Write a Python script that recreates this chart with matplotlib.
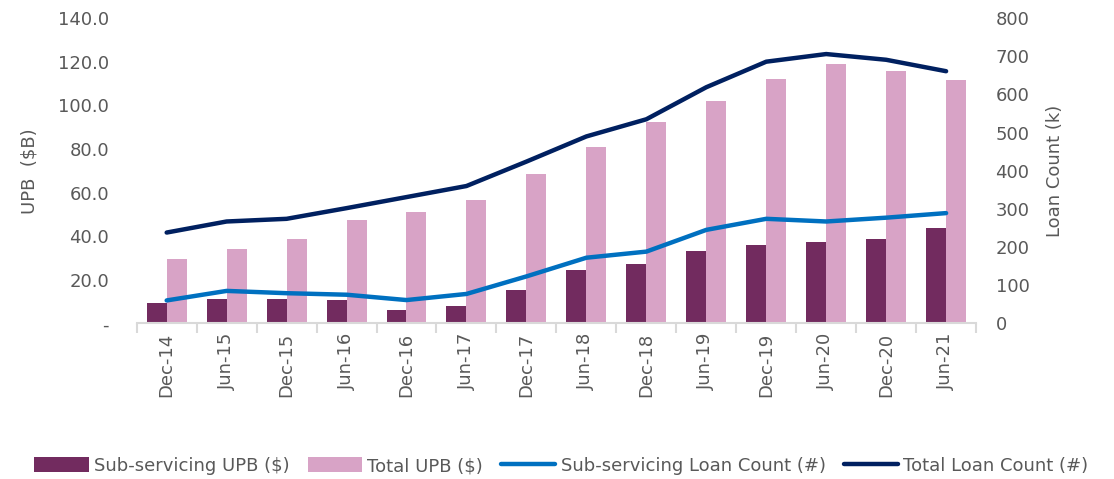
import numpy as np
import matplotlib
matplotlib.use("Agg")
import matplotlib.pyplot as plt
from matplotlib.ticker import FixedLocator, FuncFormatter

categories = ["Dec-14", "Jun-15", "Dec-15", "Jun-16", "Dec-16", "Jun-17", "Dec-17",
              "Jun-18", "Dec-18", "Jun-19", "Dec-19", "Jun-20", "Dec-20", "Jun-21"]
sub_upb = [9.2, 11.2, 11.2, 10.7, 6.0, 7.8, 15.3, 24.5, 27.1, 33.2, 35.9, 37.3, 38.7, 43.6]
total_upb = [29.4, 34.1, 38.8, 47.2, 51.2, 56.7, 68.3, 80.9, 92.2, 102.0, 111.9, 118.8, 115.7, 111.6]
sub_count = [60, 85, 79, 75, 61, 77, 123, 172, 188, 245, 274, 267, 277, 289]
total_count = [238, 267, 274, 302, 331, 360, 424, 490, 535, 619, 686, 706, 691, 661]

C_SUB = "#722B5F"
C_TOT = "#D8A3C6"
C_LSUB = "#0070C0"
C_LTOT = "#002060"
GRAY = "#595959"
FS = 13

plt.rcParams['font.family'] = ['DejaVu Sans']
fig = plt.figure(figsize=(11.14, 4.79), dpi=100)
ax = fig.add_axes([0.1227, 0.325, 0.7535, 0.637])
ax2 = ax.twinx()

x = np.arange(len(categories))
w = 0.333
ax.bar(x - w / 2, sub_upb, width=w, color=C_SUB, label="Sub-servicing UPB ($)", zorder=2)
ax.bar(x + w / 2, total_upb, width=w, color=C_TOT, label="Total UPB ($)", zorder=2)
ax2.plot(x, sub_count, color=C_LSUB, lw=3.2, solid_capstyle='round', solid_joinstyle='round',
         label="Sub-servicing Loan Count (#)")
ax2.plot(x, total_count, color=C_LTOT, lw=3.2, solid_capstyle='round', solid_joinstyle='round',
         label="Total Loan Count (#)")

ax.set_xlim(-0.5, len(categories) - 0.5)
ax.set_ylim(0, 140)
ax2.set_ylim(0, 800)
ax.set_yticks(np.arange(0, 141, 20))
ax.yaxis.set_major_formatter(FuncFormatter(lambda v, p: "-" if v == 0 else f"{v:.1f}"))
ax2.set_yticks(np.arange(0, 801, 100))

ax.set_xticks(x)
ax.set_xticklabels(categories, rotation=90)
ax.xaxis.set_minor_locator(FixedLocator(np.arange(-0.5, len(categories), 1.0)))
ax.tick_params(axis='x', which='major', length=0, pad=7, labelsize=FS, labelcolor=GRAY)
ax.tick_params(axis='x', which='minor', length=7, color="#D9D9D9", width=1.5)
ax.tick_params(axis='y', length=0, labelsize=FS, labelcolor=GRAY, pad=20)
ax2.tick_params(axis='y', length=0, labelsize=FS, labelcolor=GRAY, pad=14)

for a in (ax, ax2):
    for s in ("top", "left", "right", "bottom"):
        a.spines[s].set_visible(False)
ax.spines["bottom"].set_visible(True)
ax.spines["bottom"].set_color("#D9D9D9")
ax.spines["bottom"].set_linewidth(1.5)

ax.set_ylabel("UPB  ($B)", fontsize=FS, color=GRAY, labelpad=14)
ax2.set_ylabel("Loan Count (k)", fontsize=FS, color=GRAY, labelpad=12)

h1, l1 = ax.get_legend_handles_labels()
h2, l2 = ax2.get_legend_handles_labels()
fig.legend(h1 + h2, l1 + l2, loc='center', bbox_to_anchor=(0.504, 0.027), ncol=4, frameon=False,
           fontsize=FS, handlelength=3.0, handleheight=0.9, handletextpad=0.3, columnspacing=1.0,
           labelcolor=GRAY)

fig.savefig("out.png", dpi=100)
